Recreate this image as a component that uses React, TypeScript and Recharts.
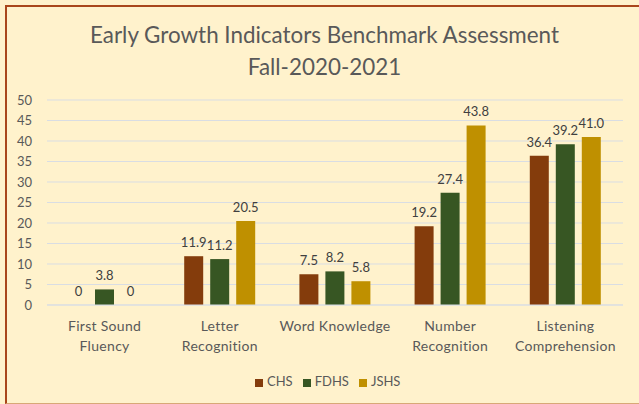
import { BarChart, Bar, XAxis, YAxis, CartesianGrid, Legend, LabelList } from 'recharts';

const categories = ['First Sound Fluency', 'Letter Recognition', 'Word Knowledge', 'Number Recognition', 'Listening Comprehension'];
const tickLines = [['First Sound', 'Fluency'], ['Letter', 'Recognition'], ['Word Knowledge'], ['Number', 'Recognition'], ['Listening', 'Comprehension']];
const chs = [0, 11.9, 7.5, 19.2, 36.4];
const fdhs = [3.8, 11.2, 8.2, 27.4, 39.2];
const jshs = [0, 20.5, 5.8, 43.8, 41.0];
const yTicks = [0, 5, 10, 15, 20, 25, 30, 35, 40, 45, 50];

const data = categories.map((name, i) => ({ name, CHS: chs[i], FDHS: fdhs[i], JSHS: jshs[i] }));

const FONT = 'Lato, "Open Sans", sans-serif';
const TEXT = '#595959';

const fmt = (v: number) => (v === 0 ? '0' : v.toFixed(1));
// zero bars still need a rect so their "0" label is drawn
const tinyForZero = (v: number) => (v === 0 ? 0.01 : 0);

function CategoryTick({ x, y, index }: any) {
  const lines = tickLines[index] || [];
  return (
    <text x={x} y={y + 18} textAnchor="middle" fill={TEXT} fontSize={14} letterSpacing={0.3} fontFamily={FONT}>
      {lines.map((l, i) => (
        <tspan key={i} x={x} dy={i === 0 ? 0 : 20}>{l}</tspan>
      ))}
    </text>
  );
}

function ValueLabel({ x, y, width, value }: any) {
  return (
    <text x={x + width / 2} y={y - 9} textAnchor="middle" fill="#404040" fontSize={13} fontFamily={FONT}>
      {fmt(Number(value))}
    </text>
  );
}

export default function App() {
  return (
    <div style={{ position: 'absolute', left: 0, top: 0, width: 639, height: 404, background: '#FFF2CC', overflow: 'hidden', fontFamily: FONT }}>
      {/* frame */}
      <div style={{ position: 'absolute', left: 5, top: 5, width: 650, height: 396, borderLeft: '2px solid #A9461B', borderTop: '2px solid #A9461B', borderBottom: '1px solid #D8A877' }} />
      <div style={{ position: 'absolute', left: 5, top: 19, width: 639, textAlign: 'center', color: TEXT, fontSize: 22.4, lineHeight: '32px' }}>
        <div>Early Growth Indicators Benchmark Assessment</div>
        <div>Fall-2020-2021</div>
      </div>
      <div style={{ position: 'absolute', left: 0, top: 0 }}>
        <BarChart width={639} height={404} data={data} margin={{ top: 100, right: 16, left: 0, bottom: 15 }} barCategoryGap={22} barGap={7}>
          <CartesianGrid vertical={false} stroke="#D9DDE3" />
          <XAxis dataKey="name" height={68} interval={0} tickLine={false} axisLine={{ stroke: '#D9DDE3' }} tick={<CategoryTick />} />
          <YAxis width={47} domain={[0, 50]} ticks={yTicks} interval={0} tickLine={false} axisLine={false} tick={{ fill: TEXT, fontSize: 13, fontFamily: FONT }} tickMargin={9} />
          <Legend verticalAlign="bottom" align="left" iconType="square" iconSize={8} wrapperStyle={{ left: 255, width: 'auto', fontSize: 13, color: TEXT, fontFamily: FONT }} formatter={(v: string) => <span style={{ color: TEXT }}>{v}</span>} />
          <Bar dataKey="CHS" fill="#843C0C" minPointSize={tinyForZero} isAnimationActive={false}>
            <LabelList dataKey="CHS" content={<ValueLabel />} />
          </Bar>
          <Bar dataKey="FDHS" fill="#375623" minPointSize={tinyForZero} isAnimationActive={false}>
            <LabelList dataKey="FDHS" content={<ValueLabel />} />
          </Bar>
          <Bar dataKey="JSHS" fill="#BF9000" minPointSize={tinyForZero} isAnimationActive={false}>
            <LabelList dataKey="JSHS" content={<ValueLabel />} />
          </Bar>
        </BarChart>
      </div>
    </div>
  );
}
